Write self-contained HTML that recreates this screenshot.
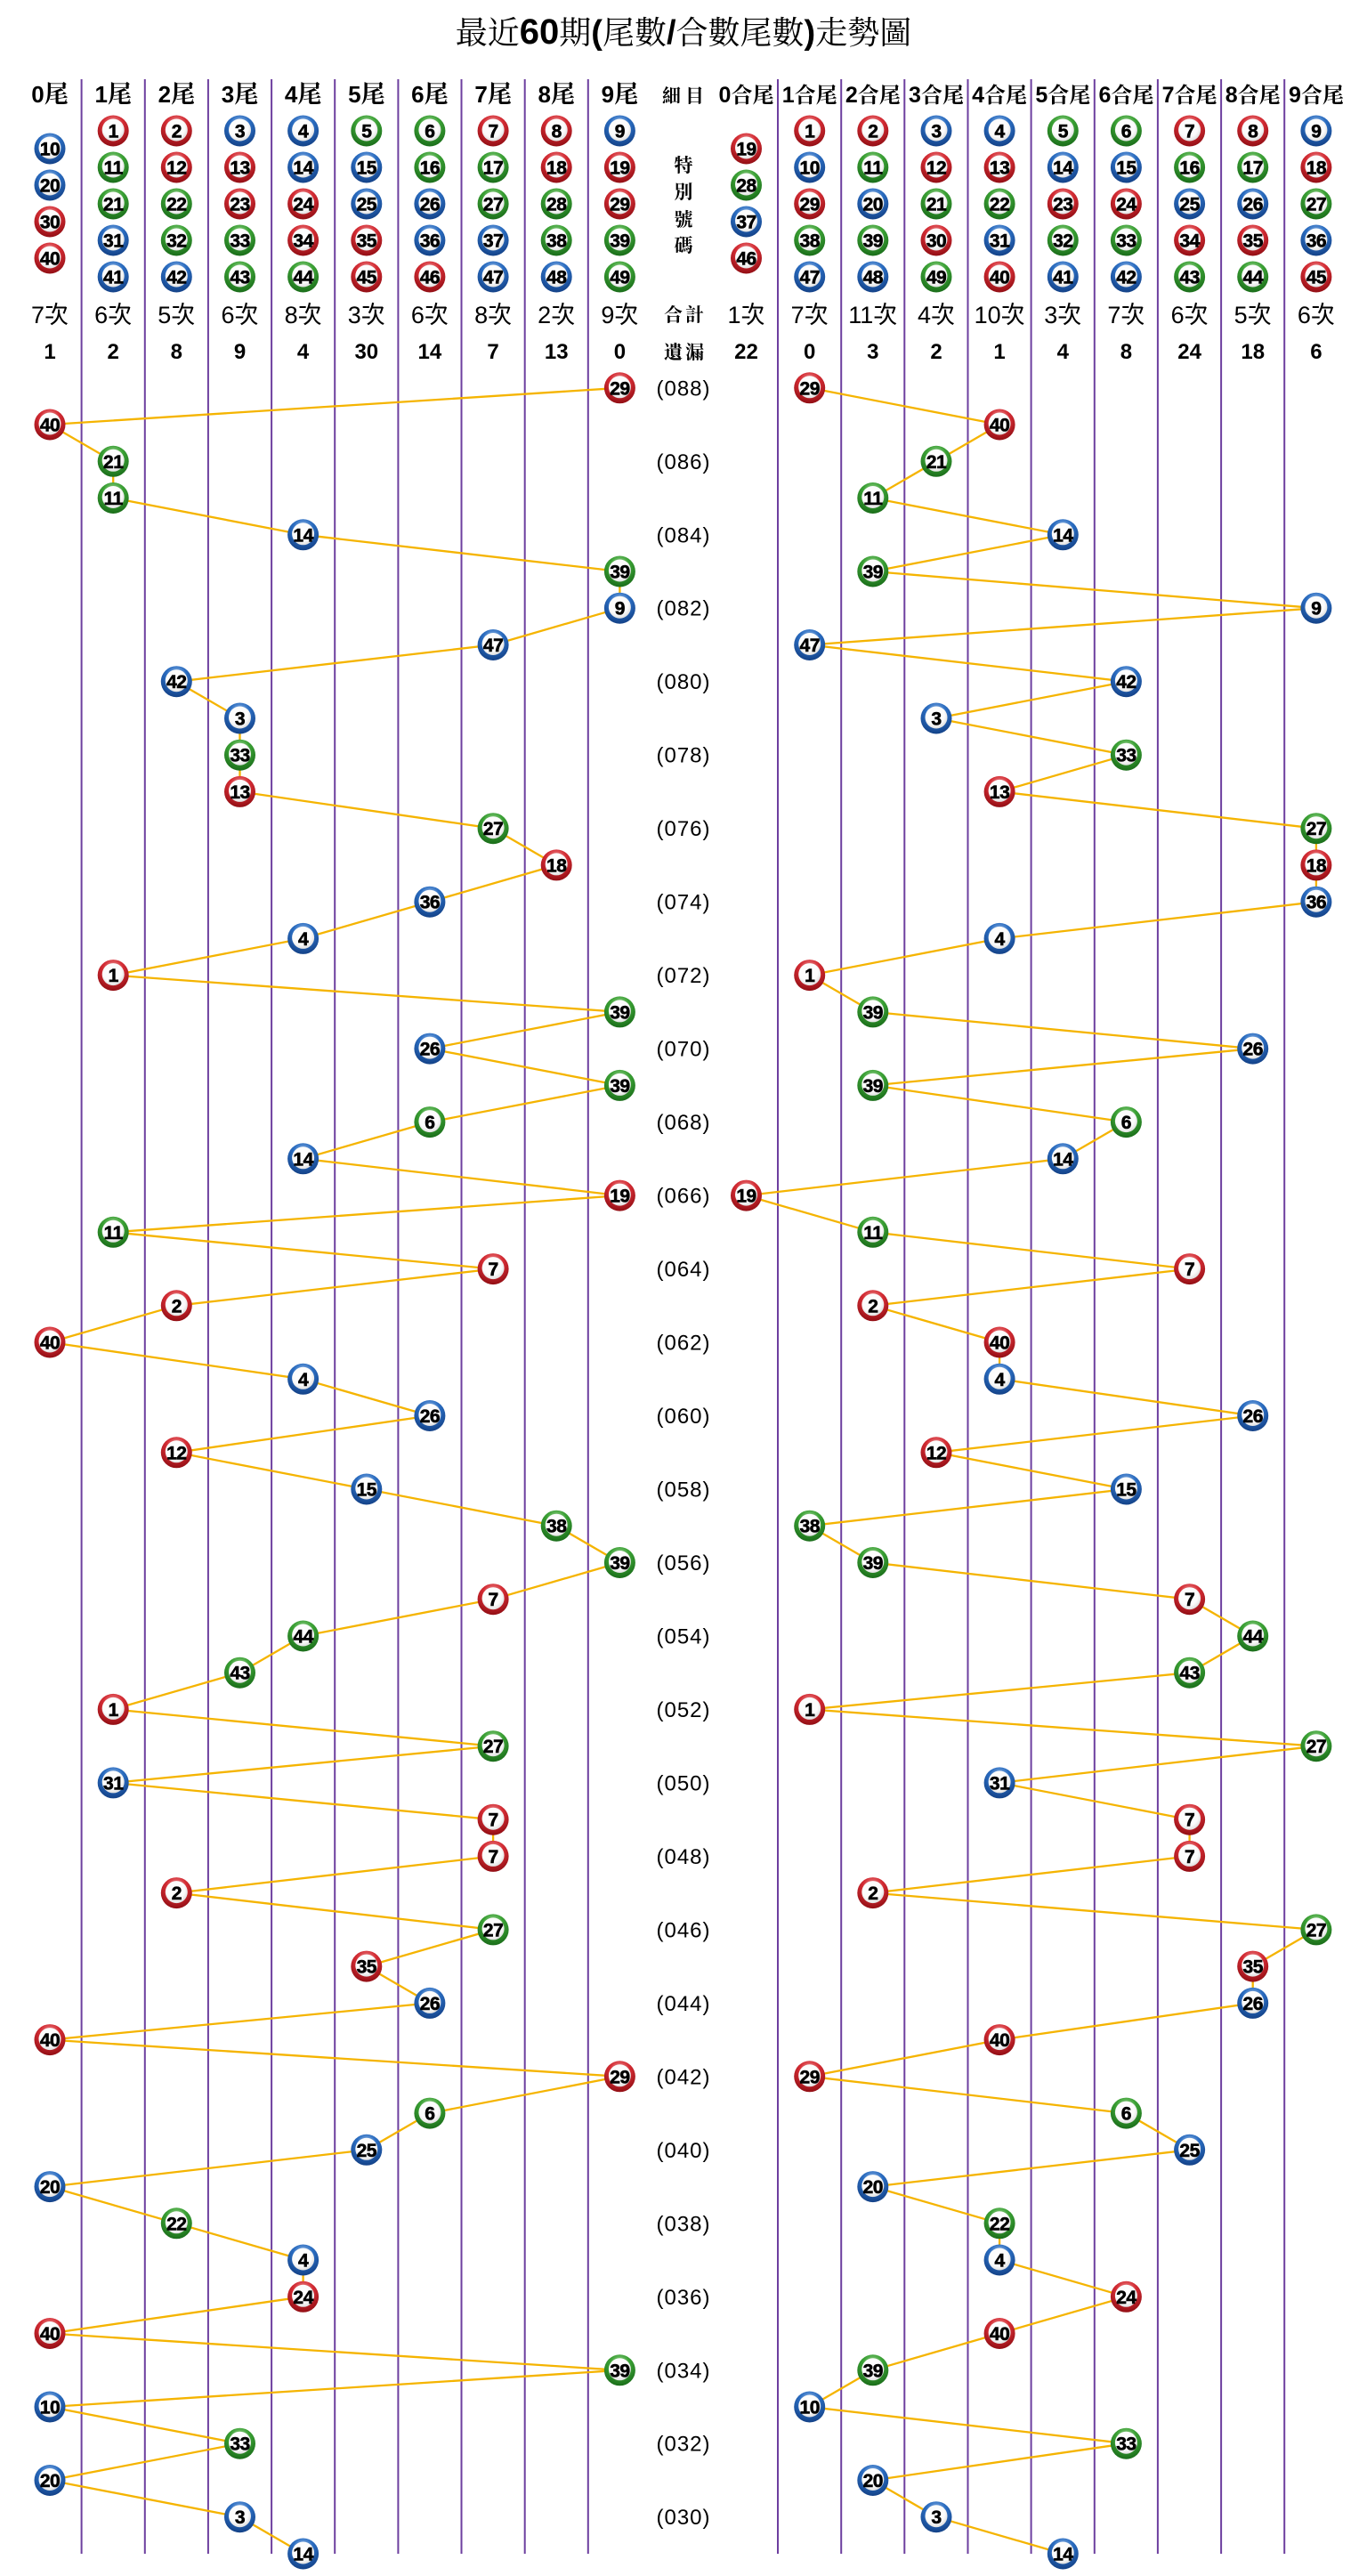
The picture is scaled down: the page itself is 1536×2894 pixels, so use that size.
<!DOCTYPE html>
<html><head><meta charset="utf-8"><style>
html,body{margin:0;padding:0;background:#fff}
svg{display:block}
.b text{font:bold 21px "Liberation Sans",sans-serif;text-anchor:middle;fill:#000;stroke:#000;stroke-width:0.6px;letter-spacing:-0.5px}
.t{font-family:"Noto Serif CJK SC","Noto Serif CJK TC",serif;fill:#000}
.hl{font-size:27px;text-anchor:middle;font-weight:bold}
.hl tspan.d{font:bold 26px "Liberation Sans",sans-serif}
.hr{font-size:24px;text-anchor:middle;font-weight:bold}
.hr tspan.d{font:bold 25px "Liberation Sans",sans-serif}
.cnt{font:27px "Liberation Sans","Noto Sans CJK TC",sans-serif;text-anchor:middle;fill:#000}
.om{font:bold 24px "Liberation Sans",sans-serif;text-anchor:middle;fill:#000}
.lab{font-family:"Noto Serif CJK SC","Noto Serif CJK TC",serif;font-size:21px;font-weight:bold;text-anchor:middle;fill:#000}
.pd{font:24px "Liberation Sans",sans-serif;text-anchor:middle;fill:#000;letter-spacing:1px}
</style></head><body>
<svg xmlns="http://www.w3.org/2000/svg" xmlns:xlink="http://www.w3.org/1999/xlink" width="1536" height="2894" viewBox="0 0 1536 2894">
<defs>
<radialGradient id="gr" cx="50%" cy="30%" r="72%"><stop offset="0" stop-color="#f2b0b0"/><stop offset="0.45" stop-color="#d42c34"/><stop offset="1" stop-color="#8e0c12"/></radialGradient>
<radialGradient id="gb" cx="50%" cy="30%" r="72%"><stop offset="0" stop-color="#b0cdf0"/><stop offset="0.45" stop-color="#2a6cc0"/><stop offset="1" stop-color="#123f84"/></radialGradient>
<radialGradient id="gg" cx="50%" cy="30%" r="72%"><stop offset="0" stop-color="#b6e2ac"/><stop offset="0.45" stop-color="#3aa034"/><stop offset="1" stop-color="#186a18"/></radialGradient>
<radialGradient id="gw" cx="45%" cy="40%" r="60%"><stop offset="0" stop-color="#ffffff"/><stop offset="0.7" stop-color="#fbfbfb"/><stop offset="1" stop-color="#e0e0e0"/></radialGradient>
<g id="R"><circle r="17.5" fill="url(#gr)"/><circle cy="-1" r="12.5" fill="url(#gw)"/></g>
<g id="B"><circle r="17.5" fill="url(#gb)"/><circle cy="-1" r="12.5" fill="url(#gw)"/></g>
<g id="G"><circle r="17.5" fill="url(#gg)"/><circle cy="-1" r="12.5" fill="url(#gw)"/></g>
</defs>
<rect width="1536" height="2894" fill="#fff"/>

<!-- Title -->
<text x="768" y="49" class="t" font-size="36" text-anchor="middle">最近<tspan font-family="Liberation Sans" font-weight="bold" font-size="40">60</tspan>期<tspan font-family="Liberation Sans" font-weight="bold" font-size="38">(</tspan>尾數<tspan font-family="Liberation Sans" font-weight="bold" font-size="38">/</tspan>合數尾數<tspan font-family="Liberation Sans" font-weight="bold" font-size="38">)</tspan>走勢圖</text>

<!-- vertical lines -->
<g stroke="#6d3f9f" stroke-width="2">
<line x1="91.6" y1="89" x2="91.6" y2="2869"/>
<line x1="162.8" y1="89" x2="162.8" y2="2869"/>
<line x1="233.9" y1="89" x2="233.9" y2="2869"/>
<line x1="305.1" y1="89" x2="305.1" y2="2869"/>
<line x1="376.2" y1="89" x2="376.2" y2="2869"/>
<line x1="447.4" y1="89" x2="447.4" y2="2869"/>
<line x1="518.5" y1="89" x2="518.5" y2="2869"/>
<line x1="589.7" y1="89" x2="589.7" y2="2869"/>
<line x1="660.8" y1="89" x2="660.8" y2="2869"/>
<line x1="874" y1="89" x2="874" y2="2869"/>
<line x1="945.2" y1="89" x2="945.2" y2="2869"/>
<line x1="1016.3" y1="89" x2="1016.3" y2="2869"/>
<line x1="1087.5" y1="89" x2="1087.5" y2="2869"/>
<line x1="1158.6" y1="89" x2="1158.6" y2="2869"/>
<line x1="1229.8" y1="89" x2="1229.8" y2="2869"/>
<line x1="1300.9" y1="89" x2="1300.9" y2="2869"/>
<line x1="1372.1" y1="89" x2="1372.1" y2="2869"/>
<line x1="1443.2" y1="89" x2="1443.2" y2="2869"/>
</g>

<!-- header labels -->
<g class="t hl">
<text x="56" y="115"><tspan class="d">0</tspan>尾</text>
<text x="127.2" y="115"><tspan class="d">1</tspan>尾</text>
<text x="198.3" y="115"><tspan class="d">2</tspan>尾</text>
<text x="269.5" y="115"><tspan class="d">3</tspan>尾</text>
<text x="340.6" y="115"><tspan class="d">4</tspan>尾</text>
<text x="411.8" y="115"><tspan class="d">5</tspan>尾</text>
<text x="482.9" y="115"><tspan class="d">6</tspan>尾</text>
<text x="554.1" y="115"><tspan class="d">7</tspan>尾</text>
<text x="625.2" y="115"><tspan class="d">8</tspan>尾</text>
<text x="696.4" y="115"><tspan class="d">9</tspan>尾</text>
</g>
<g class="t hr">
<text x="838.5" y="115"><tspan class="d">0</tspan>合尾</text>
<text x="909.7" y="115"><tspan class="d">1</tspan>合尾</text>
<text x="980.8" y="115"><tspan class="d">2</tspan>合尾</text>
<text x="1052" y="115"><tspan class="d">3</tspan>合尾</text>
<text x="1123.1" y="115"><tspan class="d">4</tspan>合尾</text>
<text x="1194.3" y="115"><tspan class="d">5</tspan>合尾</text>
<text x="1265.4" y="115"><tspan class="d">6</tspan>合尾</text>
<text x="1336.6" y="115"><tspan class="d">7</tspan>合尾</text>
<text x="1407.7" y="115"><tspan class="d">8</tspan>合尾</text>
<text x="1478.9" y="115"><tspan class="d">9</tspan>合尾</text>
</g>

<!-- label column -->
<g class="lab">
<text x="770" y="115" letter-spacing="5">細目</text>
<text x="768" y="193">特</text>
<text x="768" y="223">別</text>
<text x="768" y="254">號</text>
<text x="768" y="283">碼</text>
<text x="770" y="361" letter-spacing="3">合計</text>
<text x="770" y="403" letter-spacing="3">遺漏</text>
</g>

<!-- counts -->
<g class="cnt">
<text x="56" y="363">7次</text><text x="127.2" y="363">6次</text><text x="198.3" y="363">5次</text><text x="269.5" y="363">6次</text><text x="340.6" y="363">8次</text><text x="411.8" y="363">3次</text><text x="482.9" y="363">6次</text><text x="554.1" y="363">8次</text><text x="625.2" y="363">2次</text><text x="696.4" y="363">9次</text>
<text x="838.5" y="363">1次</text><text x="909.7" y="363">7次</text><text x="980.8" y="363">11次</text><text x="1052" y="363">4次</text><text x="1123.1" y="363">10次</text><text x="1194.3" y="363">3次</text><text x="1265.4" y="363">7次</text><text x="1336.6" y="363">6次</text><text x="1407.7" y="363">5次</text><text x="1478.9" y="363">6次</text>
</g>
<g class="om">
<text x="56" y="403">1</text><text x="127.2" y="403">2</text><text x="198.3" y="403">8</text><text x="269.5" y="403">9</text><text x="340.6" y="403">4</text><text x="411.8" y="403">30</text><text x="482.9" y="403">14</text><text x="554.1" y="403">7</text><text x="625.2" y="403">13</text><text x="696.4" y="403">0</text>
<text x="838.5" y="403">22</text><text x="909.7" y="403">0</text><text x="980.8" y="403">3</text><text x="1052" y="403">2</text><text x="1123.1" y="403">1</text><text x="1194.3" y="403">4</text><text x="1265.4" y="403">8</text><text x="1336.6" y="403">24</text><text x="1407.7" y="403">18</text><text x="1478.9" y="403">6</text>
</g>

<!-- period labels -->
<g class="pd">
<text x="768" y="444.3">(088)</text><text x="768" y="526.8">(086)</text><text x="768" y="609.3">(084)</text><text x="768" y="691.7">(082)</text><text x="768" y="774.2">(080)</text><text x="768" y="856.7">(078)</text><text x="768" y="939.2">(076)</text><text x="768" y="1021.7">(074)</text><text x="768" y="1104.1">(072)</text><text x="768" y="1186.6">(070)</text><text x="768" y="1269.1">(068)</text><text x="768" y="1351.6">(066)</text><text x="768" y="1434.1">(064)</text><text x="768" y="1516.5">(062)</text><text x="768" y="1599">(060)</text><text x="768" y="1681.5">(058)</text><text x="768" y="1764">(056)</text><text x="768" y="1846.5">(054)</text><text x="768" y="1928.9">(052)</text><text x="768" y="2011.4">(050)</text><text x="768" y="2093.9">(048)</text><text x="768" y="2176.4">(046)</text><text x="768" y="2258.9">(044)</text><text x="768" y="2341.3">(042)</text><text x="768" y="2423.8">(040)</text><text x="768" y="2506.3">(038)</text><text x="768" y="2588.8">(036)</text><text x="768" y="2671.3">(034)</text><text x="768" y="2753.7">(032)</text><text x="768" y="2836.2">(030)</text>
</g>

<!-- trend lines -->
<g fill="none" stroke="#f5b400" stroke-width="2.3" stroke-linejoin="round">
<polyline points="696.4,435.8 56,477 127.2,518.3 127.2,559.5 340.6,600.8 696.4,642 696.4,683.2 554.1,724.5 198.3,765.7 269.5,807 269.5,848.2 269.5,889.4 554.1,930.7 625.2,971.9 482.9,1013.2 340.6,1054.4 127.2,1095.6 696.4,1136.9 482.9,1178.1 696.4,1219.4 482.9,1260.6 340.6,1301.8 696.4,1343.1 127.2,1384.3 554.1,1425.6 198.3,1466.8 56,1508 340.6,1549.3 482.9,1590.5 198.3,1631.8 411.8,1673 625.2,1714.2 696.4,1755.5 554.1,1796.7 340.6,1838 269.5,1879.2 127.2,1920.4 554.1,1961.7 127.2,2002.9 554.1,2044.2 554.1,2085.4 198.3,2126.6 554.1,2167.9 411.8,2209.1 482.9,2250.4 56,2291.6 696.4,2332.8 482.9,2374.1 411.8,2415.3 56,2456.6 198.3,2497.8 340.6,2539 340.6,2580.3 56,2621.5 696.4,2662.8 56,2704 269.5,2745.2 56,2786.5 269.5,2827.7 340.6,2869"/>
<polyline points="909.7,435.8 1123.1,477 1052,518.3 980.8,559.5 1194.3,600.8 980.8,642 1478.9,683.2 909.7,724.5 1265.4,765.7 1052,807 1265.4,848.2 1123.1,889.4 1478.9,930.7 1478.9,971.9 1478.9,1013.2 1123.1,1054.4 909.7,1095.6 980.8,1136.9 1407.7,1178.1 980.8,1219.4 1265.4,1260.6 1194.3,1301.8 838.5,1343.1 980.8,1384.3 1336.6,1425.6 980.8,1466.8 1123.1,1508 1123.1,1549.3 1407.7,1590.5 1052,1631.8 1265.4,1673 909.7,1714.2 980.8,1755.5 1336.6,1796.7 1407.7,1838 1336.6,1879.2 909.7,1920.4 1478.9,1961.7 1123.1,2002.9 1336.6,2044.2 1336.6,2085.4 980.8,2126.6 1478.9,2167.9 1407.7,2209.1 1407.7,2250.4 1123.1,2291.6 909.7,2332.8 1265.4,2374.1 1336.6,2415.3 980.8,2456.6 1123.1,2497.8 1123.1,2539 1265.4,2580.3 1123.1,2621.5 980.8,2662.8 909.7,2704 1265.4,2745.2 980.8,2786.5 1052,2827.7 1194.3,2869"/>
</g>

<g class="b">
<!-- header balls left -->
<g transform="translate(56 167)"><use href="#B"/><text y="7.5">10</text></g>
<g transform="translate(56 208)"><use href="#B"/><text y="7.5">20</text></g>
<g transform="translate(56 249)"><use href="#R"/><text y="7.5">30</text></g>
<g transform="translate(56 290)"><use href="#R"/><text y="7.5">40</text></g>

<g transform="translate(127.2 147)"><use href="#R"/><text y="7.5">1</text></g>
<g transform="translate(127.2 188)"><use href="#G"/><text y="7.5">11</text></g>
<g transform="translate(127.2 229)"><use href="#G"/><text y="7.5">21</text></g>
<g transform="translate(127.2 270)"><use href="#B"/><text y="7.5">31</text></g>
<g transform="translate(127.2 311)"><use href="#B"/><text y="7.5">41</text></g>

<g transform="translate(198.3 147)"><use href="#R"/><text y="7.5">2</text></g>
<g transform="translate(198.3 188)"><use href="#R"/><text y="7.5">12</text></g>
<g transform="translate(198.3 229)"><use href="#G"/><text y="7.5">22</text></g>
<g transform="translate(198.3 270)"><use href="#G"/><text y="7.5">32</text></g>
<g transform="translate(198.3 311)"><use href="#B"/><text y="7.5">42</text></g>

<g transform="translate(269.5 147)"><use href="#B"/><text y="7.5">3</text></g>
<g transform="translate(269.5 188)"><use href="#R"/><text y="7.5">13</text></g>
<g transform="translate(269.5 229)"><use href="#R"/><text y="7.5">23</text></g>
<g transform="translate(269.5 270)"><use href="#G"/><text y="7.5">33</text></g>
<g transform="translate(269.5 311)"><use href="#G"/><text y="7.5">43</text></g>

<g transform="translate(340.6 147)"><use href="#B"/><text y="7.5">4</text></g>
<g transform="translate(340.6 188)"><use href="#B"/><text y="7.5">14</text></g>
<g transform="translate(340.6 229)"><use href="#R"/><text y="7.5">24</text></g>
<g transform="translate(340.6 270)"><use href="#R"/><text y="7.5">34</text></g>
<g transform="translate(340.6 311)"><use href="#G"/><text y="7.5">44</text></g>

<g transform="translate(411.8 147)"><use href="#G"/><text y="7.5">5</text></g>
<g transform="translate(411.8 188)"><use href="#B"/><text y="7.5">15</text></g>
<g transform="translate(411.8 229)"><use href="#B"/><text y="7.5">25</text></g>
<g transform="translate(411.8 270)"><use href="#R"/><text y="7.5">35</text></g>
<g transform="translate(411.8 311)"><use href="#R"/><text y="7.5">45</text></g>

<g transform="translate(482.9 147)"><use href="#G"/><text y="7.5">6</text></g>
<g transform="translate(482.9 188)"><use href="#G"/><text y="7.5">16</text></g>
<g transform="translate(482.9 229)"><use href="#B"/><text y="7.5">26</text></g>
<g transform="translate(482.9 270)"><use href="#B"/><text y="7.5">36</text></g>
<g transform="translate(482.9 311)"><use href="#R"/><text y="7.5">46</text></g>

<g transform="translate(554.1 147)"><use href="#R"/><text y="7.5">7</text></g>
<g transform="translate(554.1 188)"><use href="#G"/><text y="7.5">17</text></g>
<g transform="translate(554.1 229)"><use href="#G"/><text y="7.5">27</text></g>
<g transform="translate(554.1 270)"><use href="#B"/><text y="7.5">37</text></g>
<g transform="translate(554.1 311)"><use href="#B"/><text y="7.5">47</text></g>

<g transform="translate(625.2 147)"><use href="#R"/><text y="7.5">8</text></g>
<g transform="translate(625.2 188)"><use href="#R"/><text y="7.5">18</text></g>
<g transform="translate(625.2 229)"><use href="#G"/><text y="7.5">28</text></g>
<g transform="translate(625.2 270)"><use href="#G"/><text y="7.5">38</text></g>
<g transform="translate(625.2 311)"><use href="#B"/><text y="7.5">48</text></g>

<g transform="translate(696.4 147)"><use href="#B"/><text y="7.5">9</text></g>
<g transform="translate(696.4 188)"><use href="#R"/><text y="7.5">19</text></g>
<g transform="translate(696.4 229)"><use href="#R"/><text y="7.5">29</text></g>
<g transform="translate(696.4 270)"><use href="#G"/><text y="7.5">39</text></g>
<g transform="translate(696.4 311)"><use href="#G"/><text y="7.5">49</text></g>

<!-- header balls right -->
<g transform="translate(838.5 167)"><use href="#R"/><text y="7.5">19</text></g>
<g transform="translate(838.5 208)"><use href="#G"/><text y="7.5">28</text></g>
<g transform="translate(838.5 249)"><use href="#B"/><text y="7.5">37</text></g>
<g transform="translate(838.5 290)"><use href="#R"/><text y="7.5">46</text></g>

<g transform="translate(909.7 147)"><use href="#R"/><text y="7.5">1</text></g>
<g transform="translate(909.7 188)"><use href="#B"/><text y="7.5">10</text></g>
<g transform="translate(909.7 229)"><use href="#R"/><text y="7.5">29</text></g>
<g transform="translate(909.7 270)"><use href="#G"/><text y="7.5">38</text></g>
<g transform="translate(909.7 311)"><use href="#B"/><text y="7.5">47</text></g>

<g transform="translate(980.8 147)"><use href="#R"/><text y="7.5">2</text></g>
<g transform="translate(980.8 188)"><use href="#G"/><text y="7.5">11</text></g>
<g transform="translate(980.8 229)"><use href="#B"/><text y="7.5">20</text></g>
<g transform="translate(980.8 270)"><use href="#G"/><text y="7.5">39</text></g>
<g transform="translate(980.8 311)"><use href="#B"/><text y="7.5">48</text></g>

<g transform="translate(1052 147)"><use href="#B"/><text y="7.5">3</text></g>
<g transform="translate(1052 188)"><use href="#R"/><text y="7.5">12</text></g>
<g transform="translate(1052 229)"><use href="#G"/><text y="7.5">21</text></g>
<g transform="translate(1052 270)"><use href="#R"/><text y="7.5">30</text></g>
<g transform="translate(1052 311)"><use href="#G"/><text y="7.5">49</text></g>

<g transform="translate(1123.1 147)"><use href="#B"/><text y="7.5">4</text></g>
<g transform="translate(1123.1 188)"><use href="#R"/><text y="7.5">13</text></g>
<g transform="translate(1123.1 229)"><use href="#G"/><text y="7.5">22</text></g>
<g transform="translate(1123.1 270)"><use href="#B"/><text y="7.5">31</text></g>
<g transform="translate(1123.1 311)"><use href="#R"/><text y="7.5">40</text></g>

<g transform="translate(1194.3 147)"><use href="#G"/><text y="7.5">5</text></g>
<g transform="translate(1194.3 188)"><use href="#B"/><text y="7.5">14</text></g>
<g transform="translate(1194.3 229)"><use href="#R"/><text y="7.5">23</text></g>
<g transform="translate(1194.3 270)"><use href="#G"/><text y="7.5">32</text></g>
<g transform="translate(1194.3 311)"><use href="#B"/><text y="7.5">41</text></g>

<g transform="translate(1265.4 147)"><use href="#G"/><text y="7.5">6</text></g>
<g transform="translate(1265.4 188)"><use href="#B"/><text y="7.5">15</text></g>
<g transform="translate(1265.4 229)"><use href="#R"/><text y="7.5">24</text></g>
<g transform="translate(1265.4 270)"><use href="#G"/><text y="7.5">33</text></g>
<g transform="translate(1265.4 311)"><use href="#B"/><text y="7.5">42</text></g>

<g transform="translate(1336.6 147)"><use href="#R"/><text y="7.5">7</text></g>
<g transform="translate(1336.6 188)"><use href="#G"/><text y="7.5">16</text></g>
<g transform="translate(1336.6 229)"><use href="#B"/><text y="7.5">25</text></g>
<g transform="translate(1336.6 270)"><use href="#R"/><text y="7.5">34</text></g>
<g transform="translate(1336.6 311)"><use href="#G"/><text y="7.5">43</text></g>

<g transform="translate(1407.7 147)"><use href="#R"/><text y="7.5">8</text></g>
<g transform="translate(1407.7 188)"><use href="#G"/><text y="7.5">17</text></g>
<g transform="translate(1407.7 229)"><use href="#B"/><text y="7.5">26</text></g>
<g transform="translate(1407.7 270)"><use href="#R"/><text y="7.5">35</text></g>
<g transform="translate(1407.7 311)"><use href="#G"/><text y="7.5">44</text></g>

<g transform="translate(1478.9 147)"><use href="#B"/><text y="7.5">9</text></g>
<g transform="translate(1478.9 188)"><use href="#R"/><text y="7.5">18</text></g>
<g transform="translate(1478.9 229)"><use href="#G"/><text y="7.5">27</text></g>
<g transform="translate(1478.9 270)"><use href="#B"/><text y="7.5">36</text></g>
<g transform="translate(1478.9 311)"><use href="#R"/><text y="7.5">45</text></g>

<!-- data balls left -->
<g transform="translate(696.4 435.8)"><use href="#R"/><text y="7.5">29</text></g>
<g transform="translate(56 477)"><use href="#R"/><text y="7.5">40</text></g>
<g transform="translate(127.2 518.3)"><use href="#G"/><text y="7.5">21</text></g>
<g transform="translate(127.2 559.5)"><use href="#G"/><text y="7.5">11</text></g>
<g transform="translate(340.6 600.8)"><use href="#B"/><text y="7.5">14</text></g>
<g transform="translate(696.4 642)"><use href="#G"/><text y="7.5">39</text></g>
<g transform="translate(696.4 683.2)"><use href="#B"/><text y="7.5">9</text></g>
<g transform="translate(554.1 724.5)"><use href="#B"/><text y="7.5">47</text></g>
<g transform="translate(198.3 765.7)"><use href="#B"/><text y="7.5">42</text></g>
<g transform="translate(269.5 807)"><use href="#B"/><text y="7.5">3</text></g>
<g transform="translate(269.5 848.2)"><use href="#G"/><text y="7.5">33</text></g>
<g transform="translate(269.5 889.4)"><use href="#R"/><text y="7.5">13</text></g>
<g transform="translate(554.1 930.7)"><use href="#G"/><text y="7.5">27</text></g>
<g transform="translate(625.2 971.9)"><use href="#R"/><text y="7.5">18</text></g>
<g transform="translate(482.9 1013.2)"><use href="#B"/><text y="7.5">36</text></g>
<g transform="translate(340.6 1054.4)"><use href="#B"/><text y="7.5">4</text></g>
<g transform="translate(127.2 1095.6)"><use href="#R"/><text y="7.5">1</text></g>
<g transform="translate(696.4 1136.9)"><use href="#G"/><text y="7.5">39</text></g>
<g transform="translate(482.9 1178.1)"><use href="#B"/><text y="7.5">26</text></g>
<g transform="translate(696.4 1219.4)"><use href="#G"/><text y="7.5">39</text></g>
<g transform="translate(482.9 1260.6)"><use href="#G"/><text y="7.5">6</text></g>
<g transform="translate(340.6 1301.8)"><use href="#B"/><text y="7.5">14</text></g>
<g transform="translate(696.4 1343.1)"><use href="#R"/><text y="7.5">19</text></g>
<g transform="translate(127.2 1384.3)"><use href="#G"/><text y="7.5">11</text></g>
<g transform="translate(554.1 1425.6)"><use href="#R"/><text y="7.5">7</text></g>
<g transform="translate(198.3 1466.8)"><use href="#R"/><text y="7.5">2</text></g>
<g transform="translate(56 1508)"><use href="#R"/><text y="7.5">40</text></g>
<g transform="translate(340.6 1549.3)"><use href="#B"/><text y="7.5">4</text></g>
<g transform="translate(482.9 1590.5)"><use href="#B"/><text y="7.5">26</text></g>
<g transform="translate(198.3 1631.8)"><use href="#R"/><text y="7.5">12</text></g>
<g transform="translate(411.8 1673)"><use href="#B"/><text y="7.5">15</text></g>
<g transform="translate(625.2 1714.2)"><use href="#G"/><text y="7.5">38</text></g>
<g transform="translate(696.4 1755.5)"><use href="#G"/><text y="7.5">39</text></g>
<g transform="translate(554.1 1796.7)"><use href="#R"/><text y="7.5">7</text></g>
<g transform="translate(340.6 1838)"><use href="#G"/><text y="7.5">44</text></g>
<g transform="translate(269.5 1879.2)"><use href="#G"/><text y="7.5">43</text></g>
<g transform="translate(127.2 1920.4)"><use href="#R"/><text y="7.5">1</text></g>
<g transform="translate(554.1 1961.7)"><use href="#G"/><text y="7.5">27</text></g>
<g transform="translate(127.2 2002.9)"><use href="#B"/><text y="7.5">31</text></g>
<g transform="translate(554.1 2044.2)"><use href="#R"/><text y="7.5">7</text></g>
<g transform="translate(554.1 2085.4)"><use href="#R"/><text y="7.5">7</text></g>
<g transform="translate(198.3 2126.6)"><use href="#R"/><text y="7.5">2</text></g>
<g transform="translate(554.1 2167.9)"><use href="#G"/><text y="7.5">27</text></g>
<g transform="translate(411.8 2209.1)"><use href="#R"/><text y="7.5">35</text></g>
<g transform="translate(482.9 2250.4)"><use href="#B"/><text y="7.5">26</text></g>
<g transform="translate(56 2291.6)"><use href="#R"/><text y="7.5">40</text></g>
<g transform="translate(696.4 2332.8)"><use href="#R"/><text y="7.5">29</text></g>
<g transform="translate(482.9 2374.1)"><use href="#G"/><text y="7.5">6</text></g>
<g transform="translate(411.8 2415.3)"><use href="#B"/><text y="7.5">25</text></g>
<g transform="translate(56 2456.6)"><use href="#B"/><text y="7.5">20</text></g>
<g transform="translate(198.3 2497.8)"><use href="#G"/><text y="7.5">22</text></g>
<g transform="translate(340.6 2539)"><use href="#B"/><text y="7.5">4</text></g>
<g transform="translate(340.6 2580.3)"><use href="#R"/><text y="7.5">24</text></g>
<g transform="translate(56 2621.5)"><use href="#R"/><text y="7.5">40</text></g>
<g transform="translate(696.4 2662.8)"><use href="#G"/><text y="7.5">39</text></g>
<g transform="translate(56 2704)"><use href="#B"/><text y="7.5">10</text></g>
<g transform="translate(269.5 2745.2)"><use href="#G"/><text y="7.5">33</text></g>
<g transform="translate(56 2786.5)"><use href="#B"/><text y="7.5">20</text></g>
<g transform="translate(269.5 2827.7)"><use href="#B"/><text y="7.5">3</text></g>
<g transform="translate(340.6 2869)"><use href="#B"/><text y="7.5">14</text></g>

<!-- data balls right -->
<g transform="translate(909.7 435.8)"><use href="#R"/><text y="7.5">29</text></g>
<g transform="translate(1123.1 477)"><use href="#R"/><text y="7.5">40</text></g>
<g transform="translate(1052 518.3)"><use href="#G"/><text y="7.5">21</text></g>
<g transform="translate(980.8 559.5)"><use href="#G"/><text y="7.5">11</text></g>
<g transform="translate(1194.3 600.8)"><use href="#B"/><text y="7.5">14</text></g>
<g transform="translate(980.8 642)"><use href="#G"/><text y="7.5">39</text></g>
<g transform="translate(1478.9 683.2)"><use href="#B"/><text y="7.5">9</text></g>
<g transform="translate(909.7 724.5)"><use href="#B"/><text y="7.5">47</text></g>
<g transform="translate(1265.4 765.7)"><use href="#B"/><text y="7.5">42</text></g>
<g transform="translate(1052 807)"><use href="#B"/><text y="7.5">3</text></g>
<g transform="translate(1265.4 848.2)"><use href="#G"/><text y="7.5">33</text></g>
<g transform="translate(1123.1 889.4)"><use href="#R"/><text y="7.5">13</text></g>
<g transform="translate(1478.9 930.7)"><use href="#G"/><text y="7.5">27</text></g>
<g transform="translate(1478.9 971.9)"><use href="#R"/><text y="7.5">18</text></g>
<g transform="translate(1478.9 1013.2)"><use href="#B"/><text y="7.5">36</text></g>
<g transform="translate(1123.1 1054.4)"><use href="#B"/><text y="7.5">4</text></g>
<g transform="translate(909.7 1095.6)"><use href="#R"/><text y="7.5">1</text></g>
<g transform="translate(980.8 1136.9)"><use href="#G"/><text y="7.5">39</text></g>
<g transform="translate(1407.7 1178.1)"><use href="#B"/><text y="7.5">26</text></g>
<g transform="translate(980.8 1219.4)"><use href="#G"/><text y="7.5">39</text></g>
<g transform="translate(1265.4 1260.6)"><use href="#G"/><text y="7.5">6</text></g>
<g transform="translate(1194.3 1301.8)"><use href="#B"/><text y="7.5">14</text></g>
<g transform="translate(838.5 1343.1)"><use href="#R"/><text y="7.5">19</text></g>
<g transform="translate(980.8 1384.3)"><use href="#G"/><text y="7.5">11</text></g>
<g transform="translate(1336.6 1425.6)"><use href="#R"/><text y="7.5">7</text></g>
<g transform="translate(980.8 1466.8)"><use href="#R"/><text y="7.5">2</text></g>
<g transform="translate(1123.1 1508)"><use href="#R"/><text y="7.5">40</text></g>
<g transform="translate(1123.1 1549.3)"><use href="#B"/><text y="7.5">4</text></g>
<g transform="translate(1407.7 1590.5)"><use href="#B"/><text y="7.5">26</text></g>
<g transform="translate(1052 1631.8)"><use href="#R"/><text y="7.5">12</text></g>
<g transform="translate(1265.4 1673)"><use href="#B"/><text y="7.5">15</text></g>
<g transform="translate(909.7 1714.2)"><use href="#G"/><text y="7.5">38</text></g>
<g transform="translate(980.8 1755.5)"><use href="#G"/><text y="7.5">39</text></g>
<g transform="translate(1336.6 1796.7)"><use href="#R"/><text y="7.5">7</text></g>
<g transform="translate(1407.7 1838)"><use href="#G"/><text y="7.5">44</text></g>
<g transform="translate(1336.6 1879.2)"><use href="#G"/><text y="7.5">43</text></g>
<g transform="translate(909.7 1920.4)"><use href="#R"/><text y="7.5">1</text></g>
<g transform="translate(1478.9 1961.7)"><use href="#G"/><text y="7.5">27</text></g>
<g transform="translate(1123.1 2002.9)"><use href="#B"/><text y="7.5">31</text></g>
<g transform="translate(1336.6 2044.2)"><use href="#R"/><text y="7.5">7</text></g>
<g transform="translate(1336.6 2085.4)"><use href="#R"/><text y="7.5">7</text></g>
<g transform="translate(980.8 2126.6)"><use href="#R"/><text y="7.5">2</text></g>
<g transform="translate(1478.9 2167.9)"><use href="#G"/><text y="7.5">27</text></g>
<g transform="translate(1407.7 2209.1)"><use href="#R"/><text y="7.5">35</text></g>
<g transform="translate(1407.7 2250.4)"><use href="#B"/><text y="7.5">26</text></g>
<g transform="translate(1123.1 2291.6)"><use href="#R"/><text y="7.5">40</text></g>
<g transform="translate(909.7 2332.8)"><use href="#R"/><text y="7.5">29</text></g>
<g transform="translate(1265.4 2374.1)"><use href="#G"/><text y="7.5">6</text></g>
<g transform="translate(1336.6 2415.3)"><use href="#B"/><text y="7.5">25</text></g>
<g transform="translate(980.8 2456.6)"><use href="#B"/><text y="7.5">20</text></g>
<g transform="translate(1123.1 2497.8)"><use href="#G"/><text y="7.5">22</text></g>
<g transform="translate(1123.1 2539)"><use href="#B"/><text y="7.5">4</text></g>
<g transform="translate(1265.4 2580.3)"><use href="#R"/><text y="7.5">24</text></g>
<g transform="translate(1123.1 2621.5)"><use href="#R"/><text y="7.5">40</text></g>
<g transform="translate(980.8 2662.8)"><use href="#G"/><text y="7.5">39</text></g>
<g transform="translate(909.7 2704)"><use href="#B"/><text y="7.5">10</text></g>
<g transform="translate(1265.4 2745.2)"><use href="#G"/><text y="7.5">33</text></g>
<g transform="translate(980.8 2786.5)"><use href="#B"/><text y="7.5">20</text></g>
<g transform="translate(1052 2827.7)"><use href="#B"/><text y="7.5">3</text></g>
<g transform="translate(1194.3 2869)"><use href="#B"/><text y="7.5">14</text></g>
</g>
</svg>
</body></html>
